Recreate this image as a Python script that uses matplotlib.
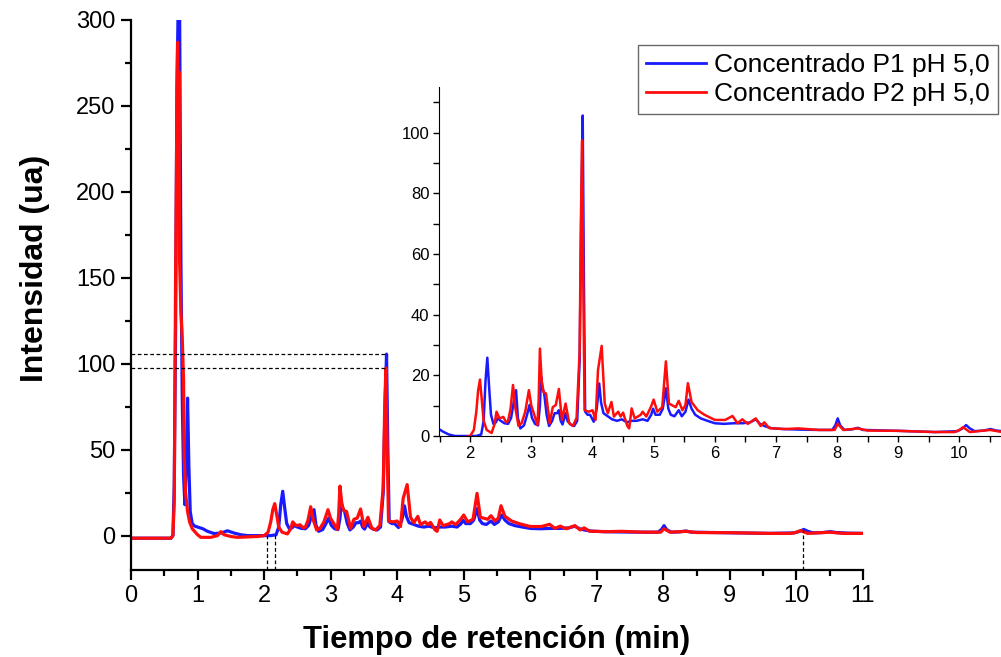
import numpy as np
import matplotlib
matplotlib.use("Agg")
import matplotlib.pyplot as plt
from matplotlib.ticker import MultipleLocator

plt.rcParams['font.family'] = ['Liberation Sans', 'DejaVu Sans']

# ---------------- data ----------------
t_p1 = [0.00, 0.60, 0.63, 0.65, 0.67, 0.69, 0.71, 0.73, 0.75, 0.77, 0.79, 0.81, 0.83, 0.85, 0.87, 0.89,
        0.92, 0.96, 1.00, 1.08, 1.15, 1.25, 1.35, 1.45, 1.55, 1.65, 1.75, 2.00, 2.10, 2.18, 2.22, 2.25,
        2.28, 2.31, 2.34, 2.38, 2.42, 2.45, 2.50, 2.56, 2.62, 2.67, 2.71, 2.75, 2.78, 2.82, 2.88, 2.93,
        2.97, 3.01, 3.06, 3.11, 3.14, 3.16, 3.18, 3.21, 3.25, 3.29, 3.34, 3.38, 3.42, 3.45, 3.48, 3.51,
        3.54, 3.56, 3.59, 3.64, 3.70, 3.75, 3.79, 3.82, 3.84, 3.86, 3.88, 3.92, 3.96, 4.02, 4.07, 4.11,
        4.14, 4.18, 4.25, 4.32, 4.40, 4.48, 4.56, 4.64, 4.72, 4.82, 4.90, 4.96, 4.99, 5.03, 5.10, 5.15,
        5.20, 5.24, 5.28, 5.34, 5.41, 5.46, 5.52, 5.57, 5.62, 5.68, 5.77, 5.88, 6.00, 6.15, 6.31, 6.45,
        6.58, 6.67, 6.74, 6.81, 6.92, 7.10, 7.41, 7.70, 7.92, 7.97, 8.01, 8.05, 8.12, 8.25, 8.34, 8.42,
        8.60, 9.00, 9.60, 9.97, 10.05, 10.11, 10.17, 10.25, 10.40, 10.51, 10.60, 10.80, 11.00]
i_p1 = [-1.5, -1.5, 0.0, 30, 120, 260, 310, 310, 160, 80, 35, 18, 40, 80, 40, 14,
        7, 5.5, 5, 4, 2.5, 1.2, 1.5, 2.8, 1.5, 0.5, 0, 0, 0, 0.5, 5, 18,
        25.8, 16, 7, 4, 4.5, 5.8, 5, 4.2, 4, 6, 11, 15.1, 6, 2.5, 3.5, 7,
        10.2, 6, 4, 3.5, 10, 19.5, 16, 14, 7, 3.3, 5, 7.5, 7.5, 8.5, 5, 3.8,
        6, 7.5, 5, 3.8, 3.3, 5, 25, 80, 105.6, 50, 8, 7, 7, 4.7, 9, 17.3,
        11, 7.5, 6.5, 5.5, 5, 5.5, 4.5, 5, 5, 5.5, 5, 7, 9, 7, 7, 9,
        15.7, 9, 7, 6.5, 8.5, 6.5, 8, 12, 9, 7, 5.8, 5, 4.2, 4, 4.2, 4.2,
        4.5, 5.5, 4, 3.3, 2.6, 2.3, 2.1, 2.0, 2.0, 3.5, 5.8, 3.5, 2.0, 2.2, 2.7, 2.0,
        1.9, 1.7, 1.3, 1.6, 2.5, 3.6, 2.5, 1.6, 1.8, 2.3, 1.8, 1.4, 1.3]

t_p2 = [0.00, 0.60, 0.63, 0.65, 0.67, 0.69, 0.70, 0.71, 0.72, 0.73, 0.75, 0.77, 0.79, 0.80, 0.82, 0.85,
        0.88, 0.92, 1.00, 1.05, 1.20, 1.30, 1.35, 1.40, 1.50, 1.60, 1.90, 2.00, 2.06, 2.10, 2.13, 2.16,
        2.19, 2.22, 2.27, 2.35, 2.40, 2.43, 2.48, 2.54, 2.59, 2.62, 2.66, 2.70, 2.74, 2.79, 2.84, 2.90,
        2.96, 3.00, 3.04, 3.10, 3.12, 3.14, 3.17, 3.20, 3.24, 3.30, 3.35, 3.40, 3.45, 3.50, 3.56, 3.62,
        3.68, 3.74, 3.79, 3.81, 3.83, 3.85, 3.87, 3.94, 4.00, 4.05, 4.09, 4.15, 4.20, 4.25, 4.31, 4.35,
        4.42, 4.46, 4.50, 4.57, 4.60, 4.64, 4.69, 4.79, 4.82, 4.88, 4.96, 5.00, 5.06, 5.14, 5.20, 5.25,
        5.36, 5.41, 5.47, 5.52, 5.56, 5.62, 5.72, 5.83, 6.00, 6.17, 6.29, 6.37, 6.45, 6.54, 6.67, 6.75,
        6.81, 6.89, 7.15, 7.37, 7.70, 7.96, 8.01, 8.10, 8.34, 8.50, 9.00, 9.60, 9.92, 10.00, 10.06, 10.17,
        10.50, 10.70, 11.00]
i_p2 = [-1.5, -1.5, 0.0, 20, 150, 250, 287, 200, 270, 160, 130, 115, 90, 45, 25, 14,
        8, 4, 0.5, -1, -1, 0, 2.3, 0.5, -0.5, -1, -0.5, 0, 2, 8, 15, 18.6,
        12, 5, 2, 1, 4, 8, 5.8, 6.3, 4.5, 5, 9, 16.8, 9, 3.3, 4.2, 8,
        15.1, 10, 7.5, 3.6, 12, 28.8, 18, 14.5, 14, 4.2, 9.5, 10.2, 15.5, 5.3, 10.7, 4.2,
        3.3, 6, 28, 70, 97.4, 50, 8.5, 8, 8.5, 5.3, 21.7, 29.7, 10.7, 7.5, 11.2, 6.4,
        8, 6.4, 7.7, 3.3, 2.5, 9.1, 5.8, 7, 8, 6.4, 9.8, 12, 8, 9.5, 24.6, 10.7,
        9.5, 11.6, 8.5, 10.2, 17.4, 11.2, 8.5, 7, 5.3, 5.3, 6.6, 4.2, 5.5, 4, 5.8, 3.3,
        4.5, 2.6, 2.3, 2.5, 2.0, 2.0, 4.0, 2.0, 2.5, 1.8, 1.7, 1.3, 1.3, 2.0, 2.9, 1.3,
        2.0, 1.3, 1.3]

labels = ["Concentrado P1 pH 5,0", "Concentrado P2 pH 5,0"]
colors = ["#1a1aff", "#ff0d0d"]
marker_times = [2.04, 2.17, 10.1]

x_label = "Tiempo de retención (min)"
y_label = "Intensidad (ua)"

# ---------------- figure ----------------
W, H = 1001, 657
fig = plt.figure(figsize=(W / 100, H / 100), dpi=100)

ax = fig.add_axes([131 / W, 1 - 570 / H, (863 - 131) / W, (570 - 20) / H])
ax.set_xlim(0, 11)
ax.set_ylim(-20, 300)
for s in ("top", "right"):
    ax.spines[s].set_visible(False)
for s in ("left", "bottom"):
    ax.spines[s].set_linewidth(1.6)
ax.xaxis.set_major_locator(MultipleLocator(1))
ax.xaxis.set_minor_locator(MultipleLocator(0.5))
ax.yaxis.set_major_locator(MultipleLocator(50))
ax.yaxis.set_minor_locator(MultipleLocator(25))
ax.tick_params(which="major", direction="out", length=7, width=1.6, labelsize=17, pad=4)
ax.tick_params(which="minor", direction="out", length=4, width=1.6)
ax.set_yticks([0, 50, 100, 150, 200, 250, 300])

lp1, = ax.plot(t_p1, i_p1, color=colors[0], lw=2.3, label=labels[0], solid_joinstyle="round")
lp2, = ax.plot(t_p2, i_p2, color=colors[1], lw=2.3, label=labels[1], solid_joinstyle="round")

# dashed reference lines to main peak and inset boundaries
ip1 = int(np.argmax(np.where(np.array(t_p1) > 3, i_p1, -1)))
ip2 = int(np.argmax(np.where(np.array(t_p2) > 3, i_p2, -1)))
for t_pk, v_pk in ((t_p1[ip1], i_p1[ip1]), (t_p2[ip2], i_p2[ip2])):
    ax.plot([0, t_pk], [v_pk, v_pk], ls=(0, (3, 2)), color="black", lw=0.9)
for tm in marker_times:
    ax.plot([tm, tm], [-20, np.interp(tm, t_p1, i_p1)], ls=(0, (3, 2)), color="black", lw=0.9)

ax.set_xlabel(x_label, fontsize=22.3, fontweight="bold")
ax.xaxis.set_label_coords(0.5, -0.1)
ax.set_ylabel(y_label, fontsize=23, fontweight="bold")
ax.yaxis.set_label_coords(-0.11, 0.549)

# ---------------- inset ----------------
ins = fig.add_axes([439 / W, 1 - 436 / H, (1001 - 439) / W, (436 - 87) / H])
ins.set_xlim(1.49, 10.68)
ins.set_ylim(0, 115)
for s in ("top", "right"):
    ins.spines[s].set_visible(False)
ins.xaxis.set_major_locator(MultipleLocator(1))
ins.xaxis.set_minor_locator(MultipleLocator(0.5))
ins.yaxis.set_major_locator(MultipleLocator(20))
ins.yaxis.set_minor_locator(MultipleLocator(10))
ins.tick_params(which="both", direction="out", length=4, width=1.0, labelsize=12, pad=3)
ins.plot(t_p1, i_p1, color=colors[0], lw=1.8)
ins.plot(t_p2, i_p2, color=colors[1], lw=1.8)
ins.patch.set_alpha(0)

leg = fig.legend(handles=[lp1, lp2], labels=labels, loc="upper right",
                 bbox_to_anchor=(998 / W, 1 - 45 / H), fontsize=19, frameon=True,
                 fancybox=False, handlelength=2.3, handletextpad=0.3, borderpad=0.3,
                 labelspacing=0.2, borderaxespad=0)
leg.get_frame().set_edgecolor("#444444")
leg.get_frame().set_linewidth(1.0)
for l in leg.get_lines():
    l.set_linewidth(2.0)

fig.savefig("out.png", dpi=100)
